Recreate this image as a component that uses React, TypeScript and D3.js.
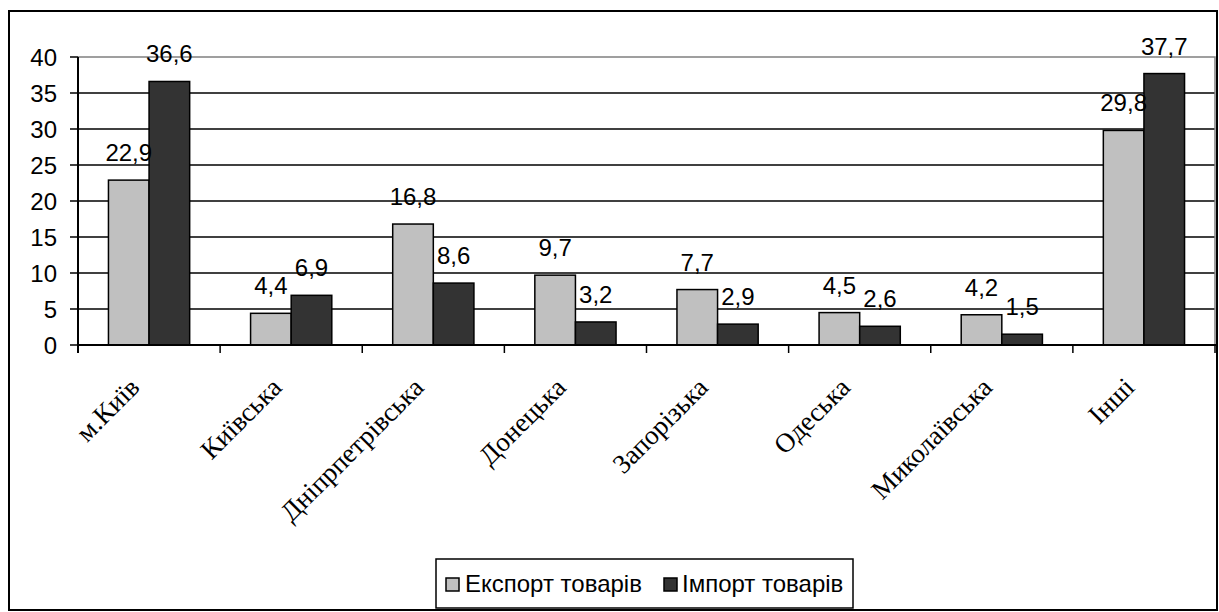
import React from "react";
import * as d3 from "d3";

const categories = ["м.Київ", "Київська", "Дніпрпетрівська", "Донецька", "Запорізька", "Одеська", "Миколаївська", "Інші"];
const exportValues = [22.9, 4.4, 16.8, 9.7, 7.7, 4.5, 4.2, 29.8];
const importValues = [36.6, 6.9, 8.6, 3.2, 2.9, 2.6, 1.5, 37.7];
const seriesNames = ["Експорт товарів", "Імпорт товарів"];
const yTicks = [0, 5, 10, 15, 20, 25, 30, 35, 40];

const W = 1219;
const H = 612;
const left = 78;
const right = 1215;
const top = 57;
const bottom = 345;

const fmt = (v: number) => v.toFixed(1).replace(".", ",");

export default function App() {
  const x = d3.scaleBand<string>().domain(categories).range([left, right]).paddingInner(0).paddingOuter(0);
  const y = d3.scaleLinear().domain([0, 40]).range([bottom, top]);
  const bw = x.bandwidth() / 3.5;
  const colors = ["#C0C0C0", "#333333"];
  const series = [exportValues, importValues];
  const sans = "'Liberation Sans', Arial, sans-serif";
  const serif = "'Liberation Serif', 'Times New Roman', serif";

  return (
    <svg width={W} height={H} style={{ position: "absolute", left: 0, top: 0, background: "#fff" }}>
      <rect x={9} y={11} width={1208} height={599} fill="#fff" stroke="#000" strokeWidth={2} />
      {/* gridlines */}
      {yTicks.filter((t) => t > 0 && t < 40).map((t) => (
        <line key={t} x1={left} x2={right} y1={y(t)} y2={y(t)} stroke="#000" strokeWidth={1.3} />
      ))}
      {/* plot area border (top, right) */}
      <polyline points={`${left},${y(40)} ${right},${y(40)} ${right},${bottom}`} fill="none" stroke="#808080" strokeWidth={1.5} />
      {/* bars */}
      {categories.map((c, i) => {
        const x0 = (x(c) as number) + x.bandwidth() / 2 - bw;
        return series.map((s, j) => (
          <rect key={c + j} x={x0 + j * bw} y={y(s[i])} width={bw} height={bottom - y(s[i])} fill={colors[j]} stroke="#000" strokeWidth={1.5} />
        ));
      })}
      {/* value labels */}
      {categories.map((c, i) => {
        const x0 = (x(c) as number) + x.bandwidth() / 2 - bw;
        return series.map((s, j) => (
          <text key={"l" + c + j} x={x0 + j * bw + bw / 2} y={y(s[i]) - 19} textAnchor="middle" fontFamily={sans} fontSize={24} fill="#000">
            {fmt(s[i])}
          </text>
        ));
      })}
      {/* y axis */}
      <line x1={left} x2={left} y1={y(40)} y2={bottom + 8} stroke="#000" strokeWidth={2} />
      {yTicks.map((t) => (
        <g key={"yt" + t}>
          <line x1={left - 8} x2={left} y1={y(t)} y2={y(t)} stroke="#000" strokeWidth={1.5} />
          <text x={57} y={y(t)} dy="0.36em" textAnchor="end" fontFamily={sans} fontSize={24} fill="#000">
            {t}
          </text>
        </g>
      ))}
      {/* x axis */}
      <line x1={left} x2={right + 2} y1={bottom} y2={bottom} stroke="#000" strokeWidth={2} />
      {categories.map((c) => (
        <line key={"xt" + c} x1={(x(c) as number) + x.bandwidth()} x2={(x(c) as number) + x.bandwidth()} y1={bottom} y2={bottom + 8} stroke="#000" strokeWidth={1.5} />
      ))}
      {categories.map((c) => {
        const cx = (x(c) as number) + x.bandwidth() / 2;
        const tx = cx - 8;
        const ty = 389;
        return (
          <text key={"xl" + c} x={tx} y={ty} textAnchor="end" transform={`rotate(-45, ${tx}, ${ty})`} fontFamily={serif} fontSize={27} fill="#000">
            {c}
          </text>
        );
      })}
      {/* legend */}
      <rect x={436} y={559} width={417} height={49} fill="#fff" stroke="#000" strokeWidth={1.5} />
      <rect x={446} y={578} width={13} height={13} fill={colors[0]} stroke="#000" strokeWidth={1.5} />
      <text x={465} y={592} fontFamily={sans} fontSize={24} fill="#000">{seriesNames[0]}</text>
      <rect x={664} y={578} width={13} height={13} fill={colors[1]} stroke="#000" strokeWidth={1.5} />
      <text x={682} y={592} fontFamily={sans} fontSize={24} fill="#000">{seriesNames[1]}</text>
    </svg>
  );
}
